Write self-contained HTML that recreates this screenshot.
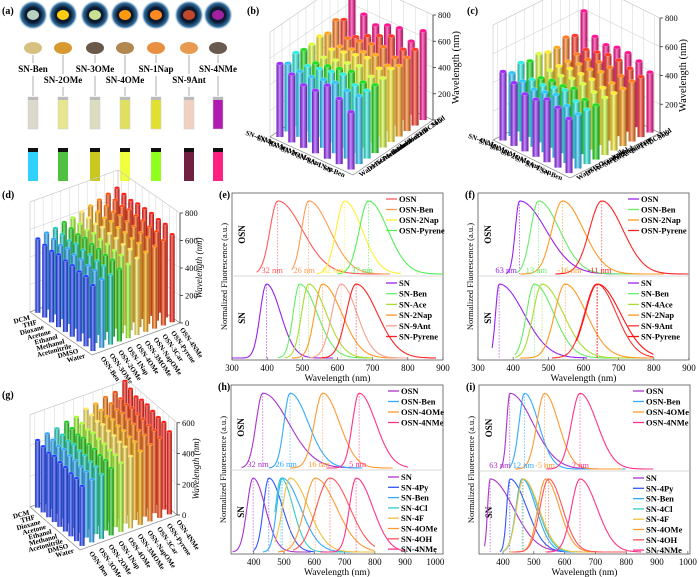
<!DOCTYPE html>
<html><head><meta charset="utf-8">
<style>
html,body{margin:0;padding:0;background:#fff;}
svg{display:block;font-family:"Liberation Serif",serif;}
</style></head>
<body>
<svg id="fig" width="700" height="577" viewBox="0 0 700 577" xmlns="http://www.w3.org/2000/svg"></svg>
<script>
// ---------- (a) data ----------
const aNames=['SN-Ben','SN-2OMe','SN-3OMe','SN-4OMe','SN-1Nap','SN-9Ant','SN-4NMe'];
const aCx=[33,63,95,125,156,189,218];
const aPowderUV=['#b8d0c0','#ffcc10','#c8e090','#ff9a10','#ff8a20','#c0482a','#a020a0'];
const aPowder=['#d8c080','#d89a30','#6a5848','#b08850','#e89040','#e89a50','#6a5a50'];
const aVial=['#dcd8cc','#e6e690','#dcdcc0','#e0e060','#e0e030','#f0d0c0','#b01cb0'];
const aVialUV=['#30d0ff','#50c040','#c8c820','#f0ff40','#90ff20','#702040','#ff2080'];

// ---------- (b) data: rows = solvents (Solid..Water), cols = compounds (SN-4NMe..SN-Ben)
const bSolvents=['Solid','DCM','THF','Dioxane','Acetone','Ethanol','Methanol','Acetonitrile','DMSO','Water'];
const bCompounds=['SN-4NMe','SN-4OMe','SN-3OMe','SN-2OMe','SN-9Ant','SN-1Nap','SN-Ben'];
const bVals=[
[720,600,560,600,620,560,680],
[560,470,520,560,600,540,580],
[600,500,520,540,560,520,560],
[540,480,500,520,540,500,540],
[560,500,520,540,560,520,560],
[540,480,500,520,540,500,530],
[540,480,500,520,540,500,520],
[560,500,520,540,560,520,520],
[520,500,500,520,540,520,520],
[560,520,480,480,560,500,440]];
const bColors=['#ff1493','#ff3a2a','#ff7a20','#ffaa20','#ffee30','#d8ff40','#20e020','#30f0e0','#30c8ff','#9b30ff'];

// ---------- (c) data
const cVals=[
[620,480,460,480,480,460,420],
[480,420,440,460,460,440,420],
[500,420,420,440,440,420,420],
[460,400,420,420,440,400,400],
[460,400,420,420,420,400,400],
[480,400,400,420,420,400,400],
[460,380,400,400,420,380,380],
[480,400,400,420,440,400,380],
[440,420,400,420,440,400,380],
[480,440,400,400,440,420,380]];

// ---------- (d) data: rows = compounds (OSN-4NMe..OSN-Ben), cols = solvents (DCM..Water)
const dCompounds=['OSN-4NMe','OSN-Pyrene','OSN-3Car','OSN-NapOMe','OSN-3MOMe','OSN-4OMe','OSN-1Nap','OSN-2OMe','OSN-3OMe','OSN-Ben'];
const dSolvents=['DCM','THF','Dioxane','Acetone','Ethanol','Methanol','Acetonitrile','DMSO','Water'];
const dVals=[
[700,690,680,690,690,690,680,680,640],
[680,670,660,670,660,660,650,650,620],
[660,650,640,650,640,640,630,630,600],
[640,630,620,630,620,620,610,610,580],
[620,610,600,610,600,600,590,590,560],
[600,590,580,590,580,580,570,570,540],
[590,580,570,580,570,570,560,560,530],
[570,560,550,560,550,550,540,540,510],
[560,550,540,550,540,540,530,530,500],
[540,530,520,530,520,520,510,510,480]];
const dColors=['#ff1a10','#ff4a10','#ff7a10','#ffb010','#ffe860','#a8ff30','#20d020','#20d0c0','#30a8ff','#2040ff'];

// ---------- (g) data
const gVals=[
[620,600,580,590,590,580,570,570,540],
[570,560,550,560,550,550,540,540,520],
[560,550,540,550,540,540,530,530,500],
[540,530,520,530,520,520,510,510,480],
[530,520,510,520,510,510,500,500,470],
[500,490,480,490,480,480,470,470,450],
[490,480,470,480,470,470,460,460,440],
[470,460,450,460,450,450,440,440,420],
[460,450,440,450,440,440,430,430,410],
[440,430,420,430,420,420,410,410,390]];

// ---------- spectra data ----------
const xTicks900=[300,400,500,600,700,800,900];
const xTicks1000=[400,500,600,700,800,900,1000];
// (e)
const eTopNames=['OSN','OSN-Ben','OSN-2Nap','OSN-Pyrene'];
const eTopPeaks=[430,518,620,688];
const eTopWL=[22,20,24,26];
const eTopWR=[70,60,50,55];
const eTopStart=[370,470,540,600];
const eTopEnd=[750,750,780,900];
const eTopColors=['#ff5a5a','#ff9a55','#ffee33','#55ee55'];
const eBotNames=['SN','SN-Ben','SN-Ace','SN-2Nap','SN-9Ant','SN-Pyrene'];
const eBotPeaks=[398,492,518,557,610,653];
const eBotWL=[18,18,20,22,26,28];
const eBotWR=[40,50,50,55,45,60];
const eBotStart=[300,430,450,470,520,550];
const eBotEnd=[590,700,700,790,800,880];
const eBotColors=['#9922ee','#66ee66','#aadd33','#ff9922','#f4a090','#ff2222'];
const eShiftText=['32 nm','26 nm','62 nm','37 nm'];
const eShiftPos=[414,505,588,670];
// (f)
const fTopNames=['OSN','OSN-Ben','OSN-2Nap','OSN-Pyrene'];
const fTopPeaks=[418,472,540,652];
const fTopWL=[12,22,30,35];
const fTopWR=[75,60,60,60];
const fTopStart=[380,410,420,520];
const fTopEnd=[800,800,830,900];
const fTopColors=['#9922ee','#66ee66','#ff9922','#ff2222'];
const fBotNames=['SN','SN-Ben','SN-4Ace','SN-2Nap','SN-9Ant','SN-Pyrene'];
const fBotPeaks=[360,460,482,548,638,640];
const fBotWL=[10,22,25,30,35,35];
const fBotWR=[70,55,60,60,55,65];
const fBotStart=[340,405,405,420,510,580];
const fBotEnd=[610,800,800,800,800,800];
const fBotColors=['#9922ee','#66ee66','#aadd33','#ff9922','#ff3333','#ff1111'];
const fShiftText=['63 nm','13 nm','-16 nm','-11 nm'];
const fShiftPos=[380,466,560,645];
// (h)
const hTopNames=['OSN','OSN-Ben','OSN-4OMe','OSN-4NMe'];
const hTopPeaks=[430,520,628,748];
const hTopWL=[22,20,28,22];
const hTopWR=[85,60,55,55];
const hTopStart=[360,450,520,640];
const hTopEnd=[750,760,860,910];
const hTopColors=['#aa33cc','#33aaff','#ff9933','#ff3388'];
const hBotNames=['SN','SN-4Py','SN-Ben','SN-4Cl','SN-4F','SN-4OMe','SN-4OH','SN-4NMe'];
const hBotPeaks=[398,450,494,490,520,603,652,738];
const hBotWL=[20,18,18,18,25,35,45,22];
const hBotWR=[40,45,60,40,60,70,65,55];
const hBotStart=[330,400,430,470,470,480,530,620];
const hBotEnd=[590,600,760,700,800,800,800,900];
const hBotColors=['#aa33cc','#3355ff','#33aaff','#33cccc','#f0c040','#ff9933','#ff5555','#ff3388'];
const hShiftText=['32 nm','26 nm','16 nm','5 nm'];
const hShiftPos=[414,507,615,743];
// (i)
const iTopNames=['OSN','OSN-Ben','OSN-4OMe','OSN-4NMe'];
const iTopPeaks=[422,470,535,650];
const iTopWL=[10,18,25,28];
const iTopWR=[75,45,45,55];
const iTopStart=[390,420,440,540];
const iTopEnd=[800,800,790,890];
const iTopColors=['#aa33cc','#33aaff','#ff9933','#ff3388'];
const iBotNames=['SN','SN-4Py','SN-Ben','SN-4Cl','SN-4F','SN-4OMe','SN-4OH','SN-4NMe'];
const iBotPeaks=[358,422,462,465,466,538,548,650];
const iBotWL=[8,10,20,22,22,25,28,28];
const iBotWR=[75,55,45,48,50,45,45,55];
const iBotStart=[340,390,400,400,400,420,430,540];
const iBotEnd=[750,700,800,800,800,800,800,850];
const iBotColors=['#aa33cc','#3355ff','#33aaff','#33cccc','#f0c040','#ff9933','#ff5555','#ff3388'];
const iShiftText=['63 nm','12 nm','-5 nm','2 nm'];
const iShiftPos=[390,466,536,651];

const NS='http://www.w3.org/2000/svg';
const svg=document.getElementById('fig');
function mk(tag,attrs,parent){const e=document.createElementNS(NS,tag);for(const k in attrs)e.setAttribute(k,attrs[k]);(parent||svg).appendChild(e);return e;}
function txt(s,attrs,parent){const e=mk('text',attrs,parent);e.textContent=s;return e;}

const defs=mk('defs',{});
const lg=mk('linearGradient',{id:'shine',x1:'0',x2:'1',y1:'0',y2:'0'},defs);
mk('stop',{offset:'0','stop-color':'#000','stop-opacity':'0.25'},lg);
mk('stop',{offset:'0.45','stop-color':'#fff','stop-opacity':'0.45'},lg);
mk('stop',{offset:'1','stop-color':'#000','stop-opacity':'0.35'},lg);
const rg=mk('radialGradient',{id:'glow'},defs);
mk('stop',{offset:'0.5','stop-color':'#0a1830'},rg);
mk('stop',{offset:'0.8','stop-color':'#3070a0'},rg);
mk('stop',{offset:'1','stop-color':'#fff','stop-opacity':'0'},rg);

// ---------- panel (a) ----------
(function(){
  const g=mk('g',{});
  
  
  const lab=txt('(a)',{x:2,y:14,'font-size':10,'font-weight':'bold'},g);
  
  
  aNames.forEach((n,i)=>{
    const cx=aCx[i];
    const d=mk('circle',{cx:cx,cy:15,r:15,fill:'url(#glow)'},g);
    
    
    const p=mk('ellipse',{cx:cx,cy:15,rx:6,ry:5,fill:aPowderUV[i]},g);
    
    
    const p2=mk('ellipse',{cx:cx,cy:48,rx:9,ry:6,fill:aPowder[i]},g);
    
    
    const ly=(i%2===0)?72:83;
    const l1=mk('line',{x1:cx,y1:55,x2:cx,y2:ly-9,stroke:'#999','stroke-width':0.8},g);
    
    
    const l2=mk('line',{x1:cx,y1:ly+4,x2:cx,y2:96,stroke:'#999','stroke-width':0.8},g);
    
    
    const t=txt(n,{x:cx,y:ly,'font-size':9,'font-weight':'bold','text-anchor':'middle'},g);
    
    
    const v=mk('rect',{x:cx-5,y:97,width:10,height:32,fill:aVial[i],stroke:'#ccc','stroke-width':0.5},g);
    
    
    const cap=mk('rect',{x:cx-5,y:97,width:10,height:3,fill:'#bbb'},g);
    
    
    const v2=mk('rect',{x:cx-5,y:148,width:10,height:33,fill:aVialUV[i]},g);
    
    
    const cap2=mk('rect',{x:cx-5,y:148,width:10,height:4,fill:'#111'},g);
    
    
  });
})();

// ---------- 3D bar charts ----------
function draw3D(name,letter,L,R,B,hpx,maxTick,vals,colors,rowLabels,colLabels,leftRot,rightRot,title,italic,barW){
  const g=mk('g',{});
  
  
  const u=[L[0]-B[0],L[1]-B[1]], v=[R[0]-B[0],R[1]-B[1]];
  const F=[L[0]+v[0],L[1]+v[1]];
  const nI=vals.length,nJ=vals[0].length;
  const H=maxTick*hpx;
  const gs='#c8c8c8';
  [[B,L],[B,R]].forEach(([p,q])=>{
    const w=mk('polygon',{points:`${p[0]},${p[1]} ${q[0]},${q[1]} ${q[0]},${q[1]-H} ${p[0]},${p[1]-H}`,fill:'none',stroke:gs,'stroke-width':0.6},g);
    
    
  });
  for(let t=200;t<=maxTick;t+=200){
    const pl=mk('polyline',{points:`${L[0]},${L[1]-t*hpx} ${B[0]},${B[1]-t*hpx} ${R[0]},${R[1]-t*hpx}`,fill:'none',stroke:gs,'stroke-width':0.5},g);
    
    
  }
  for(let j=0;j<nJ;j++){const x=B[0]+(j+0.5)/nJ*v[0],y=B[1]+(j+0.5)/nJ*v[1];
    const gl=mk('line',{x1:x,y1:y,x2:x,y2:y-H,stroke:gs,'stroke-width':0.4},g);
    
    }
  for(let i=0;i<nI;i++){const x=B[0]+(i+0.5)/nI*u[0],y=B[1]+(i+0.5)/nI*u[1];
    const gl=mk('line',{x1:x,y1:y,x2:x,y2:y-H,stroke:gs,'stroke-width':0.4},g);
    
    }
  const fl=mk('polygon',{points:`${B[0]},${B[1]} ${L[0]},${L[1]} ${F[0]},${F[1]} ${R[0]},${R[1]}`,fill:'none',stroke:'#888','stroke-width':0.7},g);
  
  
  const list=[];
  for(let i=0;i<nI;i++)for(let j=0;j<nJ;j++)list.push([i,j]);
  list.sort((a,b)=>((a[0]+0.5)/nI+(a[1]+0.5)/nJ)-((b[0]+0.5)/nI+(b[1]+0.5)/nJ));
  list.forEach(([i,j])=>{
    const a=(i+0.5)/nI,b=(j+0.5)/nJ;
    const x=B[0]+a*u[0]+b*v[0],y=B[1]+a*u[1]+b*v[1];
    const h=vals[i][j]*hpx;
    const col=colors[i];
    const r=mk('rect',{x:x-barW/2,y:y-h,width:barW,height:h,fill:col},g);
    
    
    const s=mk('rect',{x:x-barW/2,y:y-h,width:barW,height:h,fill:'url(#shine)'},g);
    
    
    const e=mk('ellipse',{cx:x,cy:y-h,rx:barW/2,ry:barW/4,fill:col,stroke:'#fff','stroke-opacity':0.5,'stroke-width':0.4},g);
    
    
  });
  const ax=mk('line',{x1:R[0],y1:R[1],x2:R[0],y2:R[1]-H,stroke:'#333','stroke-width':0.8},g);
  
  
  for(let t=0;t<=maxTick;t+=200){
    const tk=mk('line',{x1:R[0],y1:R[1]-t*hpx,x2:R[0]+3,y2:R[1]-t*hpx,stroke:'#333','stroke-width':0.8},g);
    
    
    const tl=txt(String(t),{x:R[0]+5,y:R[1]-t*hpx+3,'font-size':8.5},g);
    
    
  }
  const tt=txt(title,{x:0,y:0,'font-size':italic?9:10.5,'font-style':italic?'italic':'normal','text-anchor':'middle',transform:`translate(${R[0]+(italic?22:26)},${R[1]-H/2}) rotate(-90)`},g);
  
  
  for(let j=0;j<nJ;j++){
    const x=L[0]+(j+0.5)/nJ*v[0]-3,y=L[1]+(j+0.5)/nJ*v[1]+5;
    const t=txt(colLabels[j],{x:0,y:0,'font-size':7,'font-weight':'bold','text-anchor':'end',transform:`translate(${x},${y}) rotate(${leftRot})`},g);
    
    
  }
  for(let i=0;i<nI;i++){
    const x=R[0]+(i+0.5)/nI*u[0]+4,y=R[1]+(i+0.5)/nI*u[1]+5;
    const t=txt(rowLabels[i],{x:0,y:0,'font-size':7,'font-weight':'bold','text-anchor':'start',transform:`translate(${x},${y}) rotate(${rightRot})`},g);
    
    
  }
  const pl=txt(letter,{x:letter==='(b)'?247:(letter==='(c)'?467:2),y:letter==='(b)'||letter==='(c)'?14:(letter==='(d)'?198:398),'font-size':10,'font-weight':'bold'},g);
  
  
}
draw3D('panel-b-3d-bars','(b)',[270,137],[433,120],[350,82],105/800,800,bVals,bColors,bSolvents,bCompounds,20,-35,'Wavelength (nm)',false,7);
draw3D('panel-c-3d-bars','(c)',[493,140],[660,133],[583,95],115/800,800,cVals,bColors,bSolvents,bCompounds,20,-35,'Wavelength (nm)',false,7);
draw3D('panel-d-3d-bars','(d)',[30,312],[180,323],[118,280],110/800,800,dVals,dColors,dCompounds,dSolvents,-15,55,'Wavelength (nm)',true,5);
draw3D('panel-g-3d-bars','(g)',[30,507],[177,515],[127,472],123/800,600,gVals,dColors,dCompounds,dSolvents,-15,55,'Wavelength (nm)',true,5);

// ---------- spectra panels ----------
function spectra(name,letter,box,ymid,dom,ticks,top,bot,shiftText,shiftPos,legX){
  const g=mk('g',{});
  
  
  const [x0,y0,x1,y1]=box;
  const sx=w=>x0+(w-dom[0])/(dom[1]-dom[0])*(x1-x0);
  const bx=mk('rect',{x:x0,y:y0,width:x1-x0,height:y1-y0,fill:'none',stroke:'#555','stroke-width':0.8},g);
  
  
  const dv=mk('line',{x1:x0,y1:ymid,x2:x1,y2:ymid,stroke:'#ccc','stroke-width':0.8},g);
  
  
  ticks.forEach(t=>{
    const tk=mk('line',{x1:sx(t),y1:y1,x2:sx(t),y2:y1-3,stroke:'#555','stroke-width':0.7},g);
    
    
    const tl=txt(String(t),{x:sx(t),y:y1+11,'font-size':9,'text-anchor':'middle'},g);
    
    
  });
  const xt=txt('Wavelength (nm)',{x:(x0+x1)/2,y:y1+21,'font-size':9.5,'text-anchor':'middle'},g);
  
  
  const yt=txt('Normalized Fluorescence (a.u.)',{x:0,y:0,'font-size':8.5,'text-anchor':'middle',transform:`translate(${x0-5},${(y0+y1)/2}) rotate(-90)`},g);
  
  
  const pl=txt(letter,{x:x0-13,y:y0+5,'font-size':10,'font-weight':'bold'},g);
  
  
  [['OSN',y0,ymid],['SN',ymid,y1]].forEach(([s,a,b])=>{
    const t=txt(s,{x:0,y:0,'font-size':9,'font-weight':'bold','text-anchor':'middle',transform:`translate(${x0+13},${(a+b)/2}) rotate(-90)`},g);
    
    
  });
  function drawSet(S,ta,tb,legY0,legDy){
    const base=tb-2, amp=(tb-ta)*0.88;
    S.peaks.forEach((p,k)=>{
      let pts=[];
      for(let w=S.start[k];w<=S.end[k];w+=3){
        const wd=w<p?S.wl[k]:S.wr[k];
        const y=base-amp*Math.exp(-0.5*((w-p)/wd)**2);
        pts.push(sx(w).toFixed(1)+','+y.toFixed(1));
      }
      const dl=mk('line',{x1:sx(p),y1:base-amp,x2:sx(p),y2:base,stroke:S.colors[k],'stroke-width':0.6,'stroke-dasharray':'1.5,1.5'},g);
      
      
      const c=mk('polyline',{points:pts.join(' '),fill:'none',stroke:S.colors[k],'stroke-width':1.1},g);
      
      
      const ly=legY0+k*legDy;
      const ll=mk('line',{x1:legX,y1:ly,x2:legX+11,y2:ly,stroke:S.colors[k],'stroke-width':1.3},g);
      
      
      const lt=txt(S.names[k],{x:legX+13,y:ly+3,'font-size':8.5,'font-weight':'bold'},g);
      
      
    });
  }
  drawSet(top,y0,ymid,y0+6,10.5);
  drawSet(bot,ymid,y1,ymid+7,bot.peaks.length>6?10.3:10.7);
  shiftText.forEach((s,k)=>{
    const t=txt(s,{x:sx(shiftPos[k]),y:ymid-3,'font-size':8.5,'text-anchor':'middle',fill:top.colors[k]},g);
    
    
  });
}
spectra('panel-e-spectra','(e)',[232,193,443,360],276,[300,900],xTicks900,
 {names:eTopNames,peaks:eTopPeaks,wl:eTopWL,wr:eTopWR,start:eTopStart,end:eTopEnd,colors:eTopColors},
 {names:eBotNames,peaks:eBotPeaks,wl:eBotWL,wr:eBotWR,start:eBotStart,end:eBotEnd,colors:eBotColors},eShiftText,eShiftPos,386);
spectra('panel-f-spectra','(f)',[478,193,689,360],276,[300,900],xTicks900,
 {names:fTopNames,peaks:fTopPeaks,wl:fTopWL,wr:fTopWR,start:fTopStart,end:fTopEnd,colors:fTopColors},
 {names:fBotNames,peaks:fBotPeaks,wl:fBotWL,wr:fBotWR,start:fBotStart,end:fBotEnd,colors:fBotColors},fShiftText,fShiftPos,628);
spectra('panel-h-spectra','(h)',[231,385,443,554],470,[325,1025],xTicks1000,
 {names:hTopNames,peaks:hTopPeaks,wl:hTopWL,wr:hTopWR,start:hTopStart,end:hTopEnd,colors:hTopColors},
 {names:hBotNames,peaks:hBotPeaks,wl:hBotWL,wr:hBotWR,start:hBotStart,end:hBotEnd,colors:hBotColors},hShiftText,hShiftPos,388);
spectra('panel-i-spectra','(i)',[479,385,690,554],471,[322,1007],xTicks1000,
 {names:iTopNames,peaks:iTopPeaks,wl:iTopWL,wr:iTopWR,start:iTopStart,end:iTopEnd,colors:iTopColors},
 {names:iBotNames,peaks:iBotPeaks,wl:iBotWL,wr:iBotWR,start:iBotStart,end:iBotEnd,colors:iBotColors},iShiftText,iShiftPos,633);
</script>
</body></html>
